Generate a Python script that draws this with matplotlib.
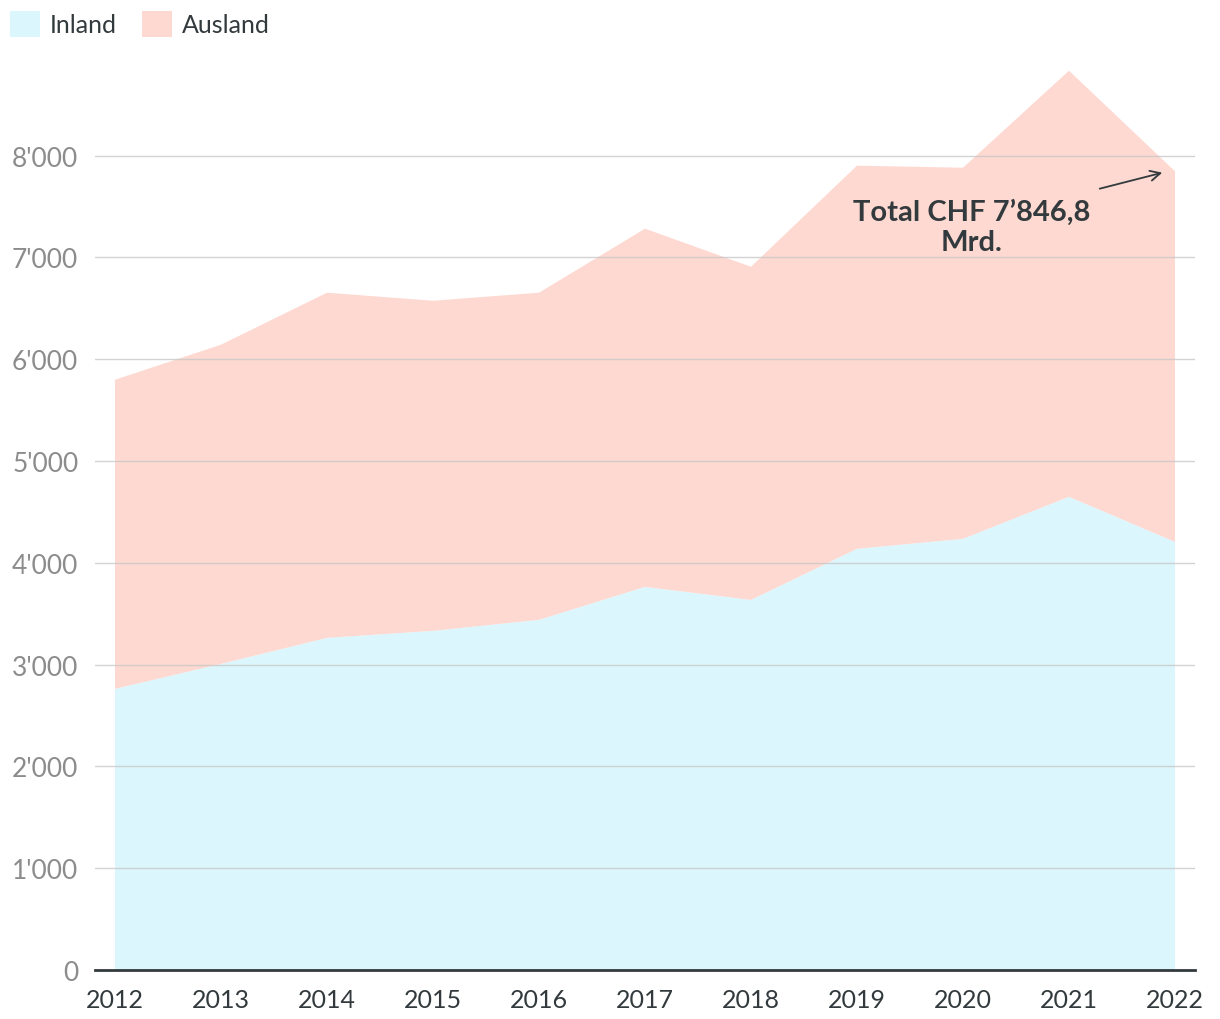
import matplotlib.pyplot as plt
from matplotlib.patches import Patch
from matplotlib.ticker import FuncFormatter

years = [2012, 2013, 2014, 2015, 2016, 2017, 2018, 2019, 2020, 2021, 2022]
inland = [2762, 3007, 3263, 3332, 3440, 3764, 3636, 4138, 4236, 4649, 4206]
total = [5799, 6143, 6654, 6575, 6654, 7283, 6909, 7902, 7882, 8835, 7846.8]
ausland = [t - i for t, i in zip(total, inland)]

c_inland = '#dcf6fd'
c_ausland = '#fed9d1'
c_text = '#333a3d'
c_grey = '#8c8c8c'

plt.rcParams['font.family'] = ['Lato', 'DejaVu Sans']

fig = plt.figure(figsize=(12.2, 10.2), dpi=100)
ax = fig.add_axes([95 / 1220, 1 - 971 / 1020, 1100 / 1220, 911 / 1020])

ax.stackplot(years, inland, ausland, colors=[c_inland, c_ausland], linewidth=0, zorder=1)

ax.set_xlim(2012 - 20 / 106, 2022 + 20 / 106)
ax.set_ylim(0, 8950)
ax.set_xticks(years)
ax.set_yticks(range(0, 9000, 1000))
ax.yaxis.set_major_formatter(FuncFormatter(lambda v, p: f"{int(v):,}".replace(',', "'")))
ax.tick_params(axis='both', length=0)
ax.tick_params(axis='y', labelsize=19, labelcolor=c_grey, pad=12)
ax.tick_params(axis='x', labelsize=18, labelcolor=c_text, pad=13)

ax.grid(axis='y', color='#c8c8c8', linewidth=1, alpha=0.8, zorder=2)
ax.set_axisbelow(False)
for s in ['top', 'right', 'left']:
    ax.spines[s].set_visible(False)
ax.spines['bottom'].set_color(c_text)
ax.spines['bottom'].set_linewidth(2)
ax.spines['bottom'].set_zorder(3)

# annotation for the 2022 total
ax.text(2020.08, 7300, "Total CHF 7’846,8\nMrd.", ha='center', va='center',
        fontsize=21, fontweight='bold', color=c_text, linespacing=1.2)
ax.annotate("", xy=(2021.88, 7833), xytext=(2021.29, 7676),
            arrowprops=dict(arrowstyle='->', color=c_text, lw=1.3,
                            shrinkA=0, shrinkB=0, mutation_scale=18))

handles = [Patch(facecolor=c_inland, label='Inland'), Patch(facecolor=c_ausland, label='Ausland')]
leg = fig.legend(handles=handles, loc='upper left', bbox_to_anchor=(10 / 1220, 1 - 12 / 1020), ncol=2,
                 frameon=False, fontsize=18, handlelength=1.2, handleheight=1.2,
                 handletextpad=0.4, columnspacing=1.0, borderaxespad=0, borderpad=0)
for t in leg.get_texts():
    t.set_color(c_text)

fig.savefig('out.png', dpi=100)
